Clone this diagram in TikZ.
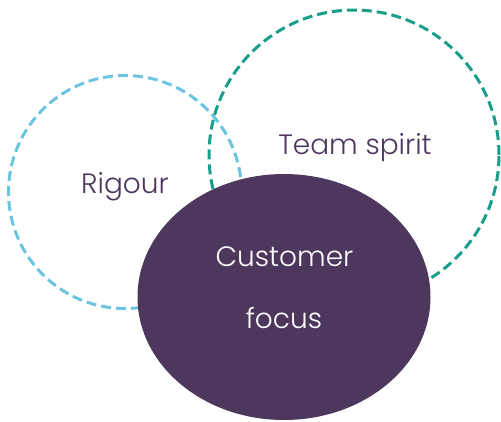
\documentclass[tikz,border=0pt]{standalone}
\usepackage{fontspec}
\setmainfont{Poppins}[UprightFont=* Light]
\usetikzlibrary{shapes.geometric}
\definecolor{ringblue}{HTML}{6CC5E0}
\definecolor{ringteal}{HTML}{1A9E8C}
\definecolor{plum}{HTML}{4D375D}
\tikzset{
  ring/.style={circle, draw, line width=3pt, dash pattern=on 10pt off 5pt, inner sep=0pt, outer sep=0pt},
  lbl/.style={font=\fontsize{28}{30}\selectfont, text=plum, inner sep=0pt, anchor=base},
  wlbl/.style={lbl, text=white}
}
\begin{document}
\begin{tikzpicture}[x=1pt,y=-1pt]
\useasboundingbox (0,0) rectangle (501,421);
\node[ring, draw=ringblue, minimum size=233pt] (rig) at (125,192) {};
\node[ring, draw=ringteal, minimum size=290pt] (team) at (354,155) {};
\node[ellipse, fill=plum, minimum width=293pt, minimum height=246pt, inner sep=0pt] (cust) at (284,297) {};
\node[lbl] (trig) at (125,193) {Rigour};
\node[lbl] (tteam) at (355,154) {Team spirit};
\node[wlbl] (tcust) at (284.5,266) {Customer};
\node[wlbl] (tfocus) at (284,328) {focus};
\end{tikzpicture}
\end{document}
